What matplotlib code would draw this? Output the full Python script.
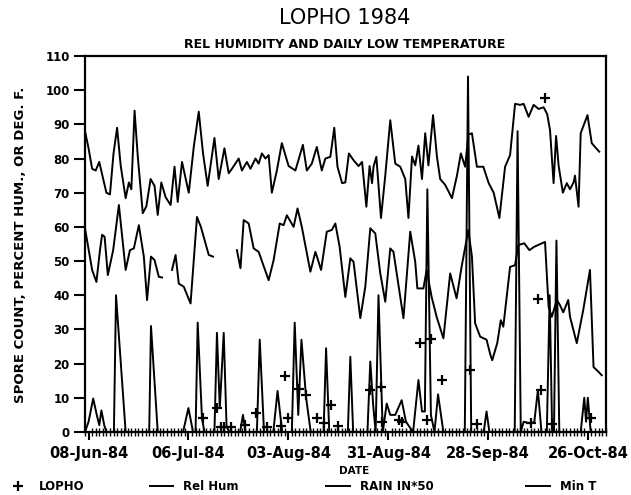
import numpy as np
import pandas as pd
import matplotlib
matplotlib.use('Agg')
import matplotlib.pyplot as plt
import matplotlib.dates as mdates
from matplotlib.lines import Line2D

start = pd.Timestamp('1984-06-08')

# days counted from 08-Jun-84
hum_day = [-1, 0, 1, 2, 3, 4, 5, 6, 7, 8, 9, 10.4, 11.3, 12, 12.9, 13.8, 15.2, 16.2, 17.4, 18.5,
           19.4, 20.4, 21.6, 23, 24.1, 25, 26.2, 28.1, 29.5, 30.9, 32.1, 33.4, 35.3, 36.5, 38.1,
           39.3, 40.2, 42.1, 43, 44.4, 45.4, 46.8, 47.7, 48.6, 49.6, 50.5, 51.4, 52.8, 54.2, 56.1,
           58, 60.1, 61.2, 62.6, 64, 65.4, 66.4, 67.8, 68.9, 69.8, 71.1, 72, 73, 74.3, 75.7, 76.7,
           77.9, 78.8, 79.5, 79.9, 80.7, 82, 83.2, 84.6, 86, 87.4, 88.8, 89.7, 90.7, 91.6, 92.5,
           93.5, 94.4, 95.3, 96.6, 97.7, 98.6, 100, 101.9, 103.3, 104.4, 105.6, 106.5, 107.5,
           108.9, 110.7, 112.2, 113.6, 115.2, 116.8, 118.2, 119.6, 121, 122, 123.4, 124.8, 126.2,
           127.6, 128.6, 129.4, 130.4, 131.1, 131.8, 133, 134.1, 135, 136, 136.4, 137.4, 138,
           139.9, 141.1, 142, 143.2]
hum_val = [88, 83, 77, 76.5, 79, 74.5, 70, 69.5, 81.5, 89, 78, 68.4, 73, 71, 94, 80.6, 64, 66, 74, 72,
           63.5, 73, 68.7, 66.4, 77.6, 67.3, 79, 70, 83.4, 93.7, 81.5, 72, 86, 74, 83,
           75.7, 77, 80, 76.5, 79, 77, 80, 78.5, 81.5, 80, 81, 70, 76.5, 84.5, 77.8,
           76.5, 84, 76.5, 78.5, 83.4, 76.5, 80, 80.5, 89, 77.6, 72.8, 73, 81.5, 79.5, 77.8, 79,
           65.9, 77.8, 72.8, 77.6, 80.5, 62.6, 75, 91.2, 78.5, 77.6, 74, 62.6, 80.6, 78, 83.8,
           74, 87.4, 78, 92.7, 80.5, 74, 72.3, 68.4, 75, 81.5, 77.6, 87, 87.4,
           77.6, 77.6, 72.8, 70, 62.6, 77.6, 81, 96, 95.7, 96, 92.2, 95.7, 94.5,
           95, 93, 88.3, 72.8, 86.6, 78, 70, 72.8, 71, 73, 75, 65.9, 87.4,
           92.7, 84.5, 83.4, 82]

mint_day = [-1, 1, 2.2, 3.2, 3.8, 4.5, 5.4, 6.9, 8.5, 10.4, 11.6, 12.7, 14.1, 15.5, 16.4, 17.5,
            18.5, 19.7, 20.6, 21.5, 23.4, 24.4, 25.3, 26.7, 28.6, 30.4, 31.5, 33.7, 34.9, 38,
            41.6, 42.6, 43.5, 44.9, 46.3, 47.7, 50.5, 51.9, 53.6, 54.7, 55.6, 57.5, 58.6, 59.8,
            62.2, 63.6, 64.2, 65.2, 66.8, 68.2, 69.2, 70.4, 72, 73.4, 74.3, 76.2, 77.6, 79, 80.4,
            81.8, 83.2, 84.6, 85.5, 88.3, 90.2, 91.6, 92.2, 93.9, 94.8, 96.2, 97.6, 99.5, 101.4,
            103.2, 104.6, 106.5, 107.5, 108.4, 109.8, 111.6, 112.7, 113.2, 114.6, 115.6, 116.3,
            118.2, 119.6, 120.5, 122.2, 123.6, 125, 128, 129, 129.9, 131.3, 132.2, 133.1, 134.5,
            135, 136.9, 138.7, 140.6, 141.6, 143, 143.9]
mint_val = [59.6, 47.4, 43.9, 53.2, 57.7, 57.1, 45.9, 53.2, 66.4, 47.4, 53.2, 53.7, 60.5, 51.3, 38.6, 51.3,
            50.3, 45.4, 45.2, np.nan, 47.4, 51.8, 43.4, 42.5, 37.6, 62.9, 60, 51.8, 51.3, np.nan,
            53.2, 47.9, 62, 61, 53.7, 52.7, 44.4, 50.3, 61, 60.5, 63.4, 60, 65.4, 60,
            46.9, 52.7, 50.8, 47.4, 58.6, 59.1, 61, 54.2, 39.5, 50.8, 49.8, 33.3, 42.5, 59.6, 58.1,
            46.4, 38.1, 53.7, 52.7, 33.3, 58.6, 49.8, 42, 42, 47.4, 39.5, 33.7, 27.4, 46.4,
            39.1, 48.3, 59.1, 51.3, 31.8, 27.9, 27, 22.5, 21, 26, 32.7, 30.8,
            48.3, 48.8, 54.7, 55.2, 53.2, 54.2, 55.6, 36.6, 33.7, 38.6, 37.1, 35, 38.6,
            33.7, 26, 35.6, 47.4, 19, 17.6, 16.6]

rain_day = [-1, 0, 1.3, 2.3, 3, 3.6, 4.4, 5, 7.1, 7.7, 10.4, 17, 17.5, 19.4, 26.5, 28, 29.3,
            30, 30.6, 31.8, 32.5, 35.3, 36, 36.8, 37.9, 38.7, 39.5, 42.5, 43.3, 44, 47.2, 48,
            49.2, 51.8, 53, 54.3, 57, 57.8, 58.8, 59.7, 61, 62.3, 65.9, 66.6, 67.5, 72.7, 73.4,
            74.2, 78.2, 79, 79.8, 80.5, 81.3, 82.5, 83.6, 84.6, 86, 87.8, 89, 90, 91, 92.5, 93.5,
            94.3, 95, 96, 97, 98, 99.5, 105.5, 106.4, 107.3, 110.8, 111.6, 112.4, 119.5, 120.3,
            121.2, 122, 124, 125, 126, 127, 128.5, 129.3, 130, 130.5, 131.2, 132, 138, 139,
            139.5, 140, 140.8, 144]
rain_val = [0, 3, 9.8, 5, 2, 6.3, 2, 0, 0, 40, 0, 0, 31, 0, 0, 7, 0,
            0, 32, 4, 0, 0, 29, 7, 29, 1.5, 0, 0, 5, 0, 0, 27,
            0, 0, 12, 0, 0, 32, 5, 27, 10, 0, 0, 24.5, 0, 0, 22,
            0, 0, 20.6, 8, 0, 40, 0, 8.3, 5, 5, 9.3, 3, 1.5, 0, 15.2, 6,
            6, 71, 5, 0, 11, 0, 0, 104, 0, 0, 6, 0, 0, 88,
            0, 3, 2.5, 3, 12.3, 0, 0, 40, 0, 0, 56, 0, 0, 10,
            3, 10, 0, 0]

lopho_day = [32, 36, 37, 38, 40, 44, 47, 50, 54, 55, 56, 59, 61, 64, 66, 68, 70, 79, 82, 82.4,
             87, 88, 93, 95, 96, 99, 107, 109, 124, 126, 127, 128, 130, 141]
lopho_val = [4, 7, 1.5, 1.5, 1.5, 2, 5.5, 1.5, 1.7, 16.4, 4, 12.5, 10.9, 4, 2.5, 7.9, 1.7, 12.3, 13.3, 3,
             3.5, 3, 26.1, 3.5, 27.1, 15.2, 18.1, 2.3, 2.7, 39, 12.3, 97.6, 2.3, 4]

def to_dates(days):
    return start + pd.to_timedelta(np.array(days, dtype=float), unit='D')

plt.rcParams['font.family'] = ['DejaVu Sans']
fig = plt.figure(figsize=(6.31, 4.95), dpi=100)
ax = fig.add_axes([0.1347, 0.1273, 0.8257, 0.7596])

lw = 1.4
ax.plot(to_dates(hum_day), hum_val, color='black', lw=lw)
ax.plot(to_dates(mint_day), mint_val, color='black', lw=lw)
ax.plot(to_dates(rain_day), rain_val, color='black', lw=lw)
ax.plot(to_dates(lopho_day), lopho_val, linestyle='none', marker='+', color='black',
        markersize=6.5, markeredgewidth=1.6)

ax.set_ylim(0, 110)
ax.set_yticks(range(0, 111, 10))
ax.set_xlim(start + pd.Timedelta(days=-1), start + pd.Timedelta(days=145.1))
ticks = [start + pd.Timedelta(days=28 * i) for i in range(6)]
ax.set_xticks(ticks)
ax.xaxis.set_major_formatter(mdates.DateFormatter('%d-%b-%y'))
ax.xaxis.set_minor_locator(mdates.DayLocator())

for s in ax.spines.values():
    s.set_linewidth(1.6)
ax.tick_params(axis='y', direction='out', length=8, width=1.5, labelsize=8.5, pad=3)
ax.tick_params(axis='x', which='major', direction='out', length=6, width=1.5, labelsize=10.5, pad=4)
ax.tick_params(axis='x', which='minor', direction='inout', length=6, width=1.0)
for lab in ax.get_xticklabels() + ax.get_yticklabels():
    lab.set_fontweight('bold')

fig.text(0.547, 0.963, 'LOPHO 1984', fontsize=15, ha='center', va='center')
fig.text(0.546, 0.911, 'REL HUMIDITY AND DAILY LOW TEMPERATURE', fontsize=9,
         fontweight='bold', ha='center', va='center')
fig.text(0.033, 0.505, 'SPORE COUNT, PERCENT HUM., OR DEG. F.', fontsize=9.5,
         fontweight='bold', rotation=90, ha='center', va='center')
fig.text(0.561, 0.048, 'DATE', fontsize=7.5, fontweight='bold', ha='center', va='center')

legend_items = [
    (Line2D([], [], linestyle='none', marker='+', color='black', markersize=7, markeredgewidth=1.6), 'LOPHO', 0.0),
    (Line2D([], [], color='black', lw=lw), 'Rel Hum', 0.228),
    (Line2D([], [], color='black', lw=lw), 'RAIN IN*50', 0.508),
    (Line2D([], [], color='black', lw=lw), 'Min T', 0.825),
]
for h, lab, x in legend_items:
    fig.legend([h], [lab], loc='center left', bbox_to_anchor=(x, 0.017), frameon=False,
               handlelength=2.0, handletextpad=0.8, borderpad=0,
               prop={'size': 8.5, 'weight': 'bold'})

fig.savefig('out.png', dpi=100)
